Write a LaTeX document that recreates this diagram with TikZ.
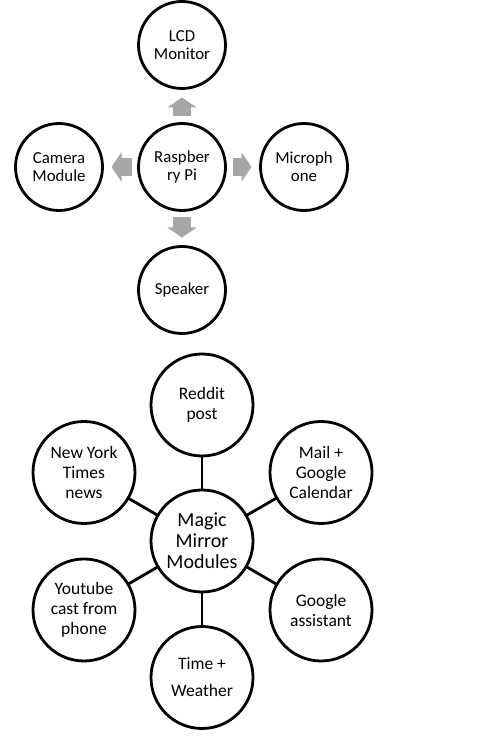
\documentclass[tikz,border=0pt]{standalone}
\usepackage{fontspec}
\setmainfont{Carlito}
\usepackage{tikz}
\usetikzlibrary{arrows.meta}

\definecolor{arrowgray}{HTML}{A6A6A6}

\tikzset{
  device/.style={circle, draw, line width=2.8pt, outer sep=0pt,
    minimum size=87pt, inner sep=0pt, align=center,
    font=\fontsize{16.8}{18}\selectfont},
  module/.style={circle, draw, line width=2.8pt, outer sep=0pt,
    minimum size=102pt, inner sep=0pt, align=center,
    font=\fontsize{17.5}{20}\selectfont},
  hub/.style={module, font=\fontsize{20}{21}\selectfont},
  blockarrow/.style={line width=18pt, arrowgray,
    -{Triangle[width=29pt, length=10pt]},
    shorten <=7pt, shorten >=9pt},
  link/.style={line width=2.8pt}
}

\begin{document}
\begin{tikzpicture}[x=1pt, y=1pt]
    \useasboundingbox (0, 0) rectangle (498, 741);

    % hardware
    \node [device] (pi) at (182, 574) {Raspber\\ry Pi};
    \node [device] (lcd) at (182, 696) {LCD\\Monitor};
    \node [device] (camera) at (59, 574) {Camera\\Module};
    \node [device] (mic) at (304, 574) {Microph\\one};
    \node [device] (speaker) at (182, 451) {Speaker};

    \draw [blockarrow] (pi) -- (lcd);
    \draw [blockarrow] (pi) -- (camera);
    \draw [blockarrow] (pi) -- (mic);
    \draw [blockarrow] (pi) -- (speaker);

    % modules
    \node [hub] (mm) at (202, 200) {Magic\\Mirror\\Modules};
    \node [module] (reddit) at (202, 336) {Reddit\\post};
    \node [module] (nyt) at (84, 268.5) {New York\\Times\\news};
    \node [module] (mail) at (321, 268.5) {Mail +\\Google\\Calendar};
    \node [module] (youtube) at (84, 131) {Youtube\\cast from\\phone};
    \node [module] (assistant) at (321, 131) {Google\\assistant};
    \node [module] (weather) at (202, 63.5) {Time +\\[7pt]Weather};

    \draw [link] (mm) -- (reddit);
    \draw [link] (mm) -- (nyt);
    \draw [link] (mm) -- (mail);
    \draw [link] (mm) -- (youtube);
    \draw [link] (mm) -- (assistant);
    \draw [link] (mm) -- (weather);

  \end{tikzpicture}
\end{document}
